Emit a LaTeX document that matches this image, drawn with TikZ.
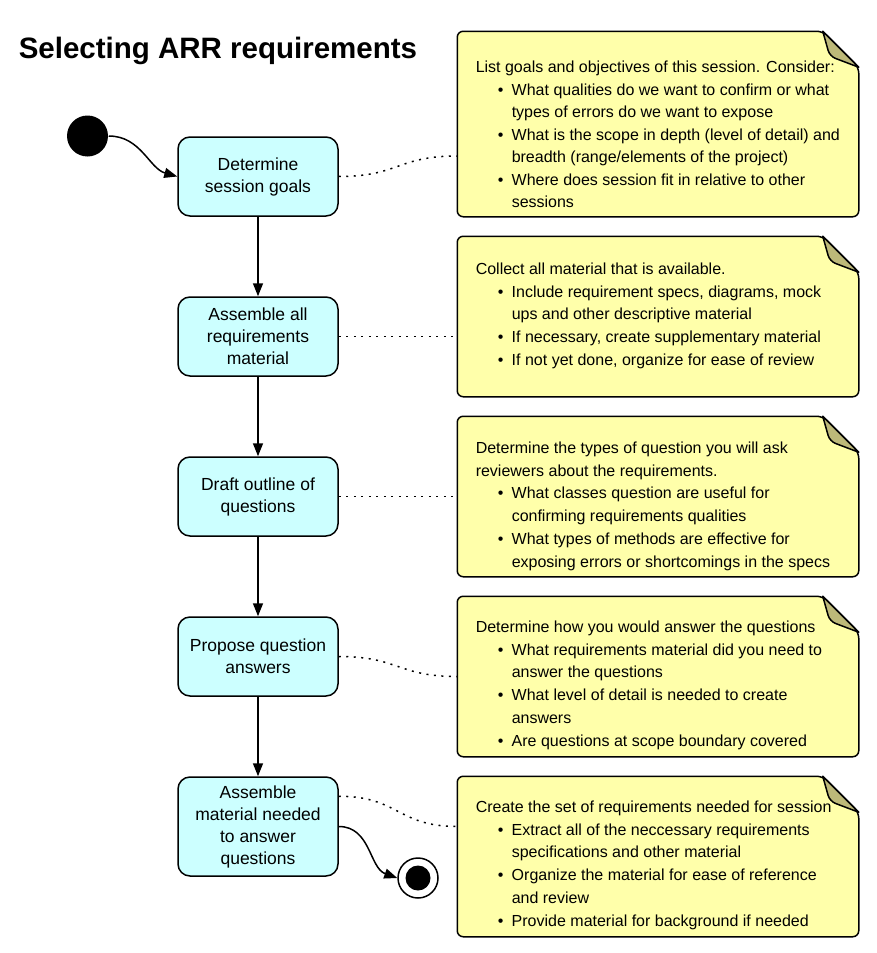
\documentclass[tikz,border=0pt]{standalone}
\usepackage{fontspec}
\setmainfont{Liberation Sans}
\usetikzlibrary{arrows.meta,calc}
\definecolor{boxfill}{HTML}{CCFFFF}
\definecolor{notefill}{HTML}{FFFFAA}
\definecolor{foldfill}{HTML}{BDB979}
\newcommand\bul{\hspace*{22pt}\makebox[14pt][l]{\textbullet}}
\newcommand\cnt{\hspace*{36pt}}
\tikzset{
  act/.style={draw, fill=boxfill, rounded corners=12pt, minimum width=160pt, minimum height=79pt,
    align=center, inner sep=2pt, font=\fontsize{17.5}{22}\selectfont},
  notebg/.style={minimum width=400pt, inner sep=0pt},
  notetxt/.style={anchor=north west, inner sep=0pt, align=left, font=\fontsize{16}{22.8}\selectfont},
  flow/.style={-{Triangle[length=13pt,width=10pt]}},
  link/.style={dash pattern=on 2pt off 5.5pt, line width=1.5pt},
  notepath/.style={draw, fill=notefill, rounded corners=6pt},
  foldpath/.style={draw, fill=foldfill, line join=round},
}
\begin{document}
\begin{tikzpicture}[x=1pt,y=-1pt,line width=1.5pt]
\useasboundingbox[fill=white] (0,0) rectangle (876,953);

% title
\node[anchor=base west, inner sep=0pt, font=\fontsize{29.5}{31}\selectfont\bfseries] (title) at (18,58) {Selecting ARR requirements};

% note placeholders
\node[notebg, minimum height=184pt] (n1) at (658,124) {};
\node[notebg, minimum height=159pt] (n2) at (658,316.5) {};
\node[notebg, minimum height=159pt] (n3) at (658,496.5) {};
\node[notebg, minimum height=159pt] (n4) at (658,676.5) {};
\node[notebg, minimum height=159pt] (n5) at (658,856.5) {};

\foreach \n in {n1,n2,n3,n4,n5}{
  \path[notepath] (\n.west) -- (\n.north west) -- ([xshift=-36pt]\n.north east) -- ([yshift=-36pt]\n.north east) -- (\n.south east) -- (\n.south west) -- cycle;
  \path[foldpath] ([xshift=-36pt]\n.north east) [rounded corners=6pt]-- ([xshift=-29pt,yshift=-25pt]\n.north east) [sharp corners]-- ([yshift=-36pt]\n.north east) -- cycle;
}

% activity boxes
\node[act] (b1) at (258,176.5) {Determine\\session goals};
\node[act] (b2) at (258,336.5) {Assemble all\\requirements\\material};
\node[act] (b3) at (258,496.5) {Draft outline of\\questions};
\node[act] (b4) at (258,656.5) {Propose question\\answers};
\node[act, minimum height=99pt] (b5) at (258,826.5) {Assemble\\material needed\\to answer\\questions};

% start / end
\node[circle, fill=black, minimum size=41pt, inner sep=0pt] (s) at (87.5,136) {};
\node[circle, draw, fill=white, minimum size=40pt, inner sep=0pt] (e) at (418,878) {};
\node[circle, fill=black, minimum size=25pt, inner sep=0pt] (ei) at (e.center) {};

% flow
\draw[flow] (s.east) .. controls +(32,0) and +(-28,-8) .. (b1.west);
\draw[flow] (b1.south) -- (b2.north);
\draw[flow] (b2.south) -- (b3.north);
\draw[flow] (b3.south) -- (b4.north);
\draw[flow] (b4.south) -- (b5.north);
\draw[flow] (b5.east) .. controls +(32,0) and +(-28,-10) .. (e.west);

% note links
\draw[link] (b1.east) .. controls +(60,0) and +(-60,0) .. ([yshift=-32pt]n1.west);
\draw[link] (b2.east) -- (b2.east -| n2.west);
\draw[link] (b3.east) -- (b3.east -| n3.west);
\draw[link] (b4.east) .. controls +(60,0) and +(-60,0) .. (n4.west);
\draw[link] ([yshift=-20pt]b5.north east) .. controls +(60,0) and +(-60,0) .. ([yshift=30pt]n5.west);

% note texts
\node[notetxt, font=\fontsize{16}{22.5}\selectfont] (t1) at (475,60.5) {List goals and objectives of this session. Consider:\\
\bul What qualities do we want to confirm or what\\
\cnt types of errors do we want to expose\\
\bul What is the scope in depth (level of detail) and\\
\cnt breadth (range/elements of the project)\\
\bul Where does session fit in relative to other\\
\cnt sessions};
\node[notetxt] (t2) at (475,262) {Collect all material that is available.\\
\bul Include requirement specs, diagrams, mock\\
\cnt ups and other descriptive material\\
\bul If necessary, create supplementary material\\
\bul If not yet done, organize for ease of review};
\node[notetxt] (t3) at (475,441) {Determine the types of question you will ask\\
reviewers about the requirements.\\
\bul What classes question are useful for\\
\cnt confirming requirements qualities\\
\bul What types of methods are effective for\\
\cnt exposing errors or shortcomings in the specs};
\node[notetxt] (t4) at (475,620) {Determine how you would answer the questions\\
\bul What requirements material did you need to\\
\cnt answer the questions\\
\bul What level of detail is needed to create\\
\cnt answers\\
\bul Are questions at scope boundary covered};
\node[notetxt] (t5) at (475,800) {Create the set of requirements needed for session\\
\bul Extract all of the neccessary requirements\\
\cnt specifications and other material\\
\bul Organize the material for ease of reference\\
\cnt and review\\
\bul Provide material for background if needed};
\end{tikzpicture}
\end{document}
